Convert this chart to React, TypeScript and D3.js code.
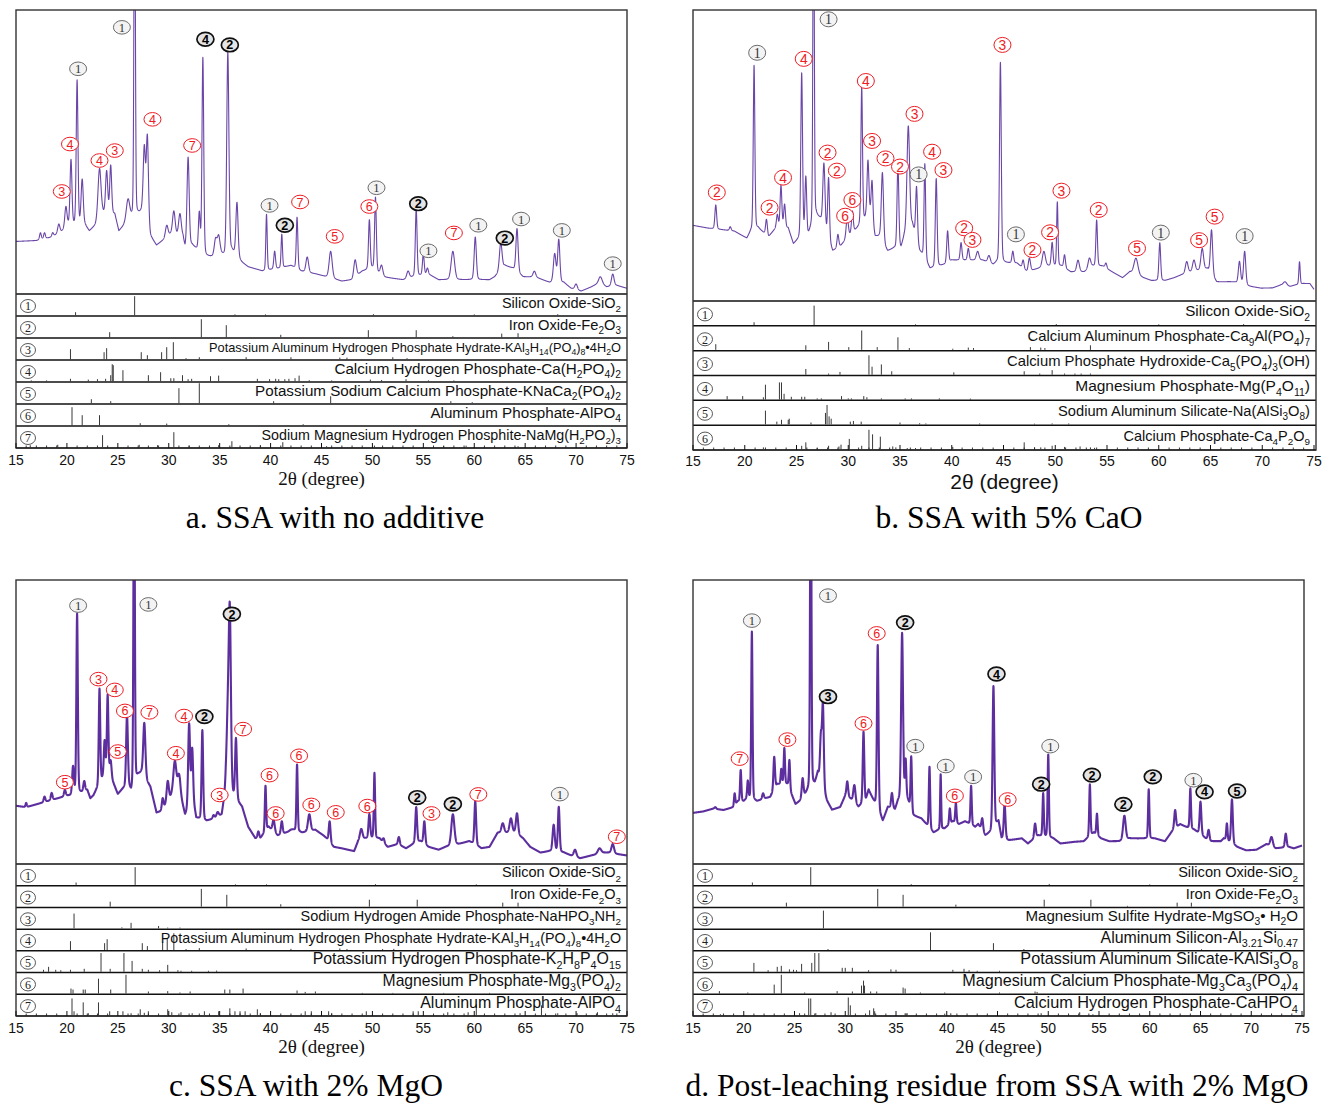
import React from "react";
import * as d3 from "d3";

type Pt = [number, number];
type Pk = [number, number, number];
type Lb = [number, number, string, string];

const xTicks = [15, 20, 25, 30, 35, 40, 45, 50, 55, 60, 65, 70, 75];
const axisTitle = "2θ (degree)";

// ---------- Panel a ----------
const aCaption = "a. SSA with no additive";
const aBaseline: Pt[] = [[15,18.5],[17,18.8],[18.5,20],[19.5,22],[20.1,24],[21.8,24],[22.2,22],[22.8,24],[23.5,28],[24.7,28],[25.1,22],[25.6,24],[26.3,26],[27.1,28],[27.4,29],[28.2,20],[28.8,17],[29.5,19],[30.2,21],[31.4,20],[31.6,16],[32.3,17],[32.6,16],[33.7,13],[34.3,13],[35.1,14],[35.5,13],[36.2,15],[37.2,11],[37.8,9.5],[38.8,8.5],[39.2,8],[40.8,9],[42,10],[43,8],[44.5,7],[45.5,6],[47,4.5],[48,5],[49,8],[50,9],[51,6],[53,5],[54,6],[55.5,7],[56.5,5],[57.5,5],[58.5,5],[60.5,5],[61.5,5],[62,6],[63,10],[63.8,9],[64.8,6],[66,6],[67.4,4],[68.8,4],[69.5,2],[70.5,1],[71.5,2.5],[72.3,4],[73,2.5],[74,3],[75,2]];
const aPeaks: Pk[] = [[17.4,21.5,.2],[17.8,21.5,.2],[18.6,21.5,.2],[19.2,24.5,.25],[19.9,30.5,.25],[20.4,47,.22],[21.0,75,.2],[21.5,40,.25],[23.2,44,.35],[23.9,43,.25],[24.3,45,.22],[26.0,33,.4],[26.65,160,.16],[27.6,51,.25],[27.9,55,.25],[29.8,24,.3],[30.5,29,.3],[31.1,28,.3],[31.9,48,.25],[33.0,28,.2],[33.35,83,.2],[34.6,19,.3],[34.9,20,.3],[35.8,85,.25],[36.7,32,.25],[39.6,28,.16],[40.4,15,.2],[41.1,21,.16],[42.6,27,.18],[43.6,13,.3],[45.9,15,.35],[48.3,12,.3],[49.7,26,.2],[50.3,34,.2],[50.9,10,.3],[53.5,8,.3],[54.3,30,.2],[55.0,14,.2],[55.4,9,.2],[57.9,15,.4],[60.1,20,.25],[62.6,18,.3],[64.2,23,.25],[65.9,8,.3],[67.9,14,.3],[68.3,19,.25],[70.0,3.5,.3],[72.4,6,.4],[73.6,7,.3]];
const aLabels: Lb[] = [[21.1,79.3,"1","g"],[25.4,93.9,"1","g"],[33.6,89.7,"4","k"],[36.0,87.7,"2","k"],[28.4,61.5,"4","r"],[20.3,52.8,"4","r"],[24.7,50.5,"3","r"],[23.2,47.0,"4","r"],[19.5,36.1,"3","r"],[32.3,52.3,"7","r"],[39.9,31.2,"1","g"],[41.4,24.2,"2","k"],[42.9,32.4,"7","r"],[46.3,20.3,"5","r"],[49.7,30.8,"6","r"],[50.4,37.4,"1","g"],[54.5,31.8,"2","k"],[55.5,15.2,"1","g"],[58.0,21.5,"7","r"],[60.4,24.2,"1","g"],[63.0,19.7,"2","k"],[64.6,26.4,"1","g"],[68.6,22.4,"1","g"],[73.6,10.7,"1","g"]];
const aPhases = ["Silicon Oxide-SiO_{2}","Iron Oxide-Fe_{2}O_{3}","Potassium Aluminum Hydrogen Phosphate Hydrate-KAl_{3}H_{14}(PO_{4})_{8}•4H_{2}O","Calcium Hydrogen Phosphate-Ca(H_{2}PO_{4})_{2}","Potassium Sodium Calcium Phosphate-KNaCa_{2}(PO_{4})_{2}","Aluminum Phosphate-AlPO_{4}","Sodium Magnesium Hydrogen Phosphite-NaMg(H_{2}PO_{2})_{3}"];
const aSticks: Pt[][] = [
  [[20.85,0.15],[26.65,0.95],[36.5,0.04],[39.5,0.04],[50.1,0.05],[60.0,0.04],[68.2,0.05]],
  [[24.2,0.25],[33.2,0.9],[35.65,0.6],[41.0,0.12],[49.6,0.35],[54.3,0.35],[57.9,0.05],[62.7,0.18],[64.3,0.2]],
  [[20.35,0.5],[23.65,0.35],[23.9,0.55],[27.3,0.35],[27.9,0.2],[29.3,0.35],[29.8,0.6],[30.45,0.85],[31.7,0.05],[33.0,0.1],[37.6,0.1],[42.0,0.1],[46.8,0.08],[47.5,0.08],[52.0,0.1],[53.4,0.05]],
  [[16.5,0.04],[18.0,0.04],[20.35,0.12],[22.1,0.08],[23.0,0.1],[23.8,0.12],[24.3,0.3],[24.45,0.85],[24.55,0.8],[25.5,0.55],[28.0,0.3],[29.2,0.45],[30.2,0.15],[30.5,0.15],[31.35,0.3],[31.9,0.1],[32.25,0.12],[34.1,0.25],[34.9,0.28],[38.7,0.12],[39.9,0.1],[40.5,0.12],[40.8,0.1],[41.4,0.1],[41.8,0.12],[42.4,0.15],[42.8,0.28],[43.8,0.05],[46.0,0.04],[49.8,0.08],[50.9,0.06],[53.3,0.1],[55.5,0.04],[58.0,0.04]],
  [[22.4,0.2],[24.3,0.1],[31.0,0.75],[33.0,1.0],[40.3,0.1],[45.9,0.35],[57.7,0.1],[59.8,0.05]],
  [[20.5,0.9],[21.5,0.5],[23.2,0.5],[27.2,0.1],[29.8,0.08],[35.9,0.05],[43.2,0.05]],
  [[16.4,0.1],[19.1,0.12],[23.5,0.6],[27.1,0.12],[28.9,0.1],[30.5,0.75],[32.0,0.08],[34.9,0.1],[36.2,0.3],[39.0,0.1],[41.2,0.25],[45.5,0.05],[50.2,0.08],[57.0,0.05],[59.2,0.08],[64.3,0.05]],
];

// ---------- Panel b ----------
const bCaption = "b. SSA with 5% CaO";
const bBaseline: Pt[] = [[15,26],[16.5,25],[17.8,24.5],[19,24],[20.2,21.5],[20.6,24],[21.3,25],[22.3,22],[23.0,25],[24.2,25],[24.7,19.5],[25.2,21],[26.1,22],[26.9,29],[27.3,28],[28.5,17],[29.3,19],[30.0,22],[30.9,25],[31.6,28],[32.0,32],[32.6,22],[33.0,22],[33.8,17],[34.4,18],[35.1,18],[35.4,22],[36.2,26],[36.9,17],[37.1,16],[37.9,11],[38.9,12],[39.3,12.5],[40.0,14],[41.2,14],[41.9,14],[42.3,14],[43.0,14],[44.0,12.4],[44.3,13],[45.2,13],[46.3,13],[47.3,10],[48.2,11],[49.2,12],[50.6,12],[51.5,10],[52.8,10],[53.6,12],[54.6,12],[55.5,10],[56.5,8],[57.2,10],[58.5,8],[59.3,7],[60.6,7],[61.5,8],[62.2,9],[63.1,10],[64.7,11],[65.6,6.5],[66.8,6.6],[67.3,6.5],[68.8,5],[69.9,4.4],[71,4.5],[71.8,5.5],[72.7,5],[73.2,5.5],[74,6],[74.6,6],[75,4]];
const bPeaks: Pk[] = [[17.2,33,.2],[18.6,25.5,.2],[20.9,81,.18],[22.1,28,.2],[23.15,29.5,.2],[23.5,39.5,.2],[23.85,33,.2],[25.5,78,.2],[25.9,42,.2],[26.65,160,.15],[27.65,47,.25],[28.1,42,.2],[29.0,22.7,.2],[29.9,28.4,.25],[30.4,30.7,.2],[31.3,73.5,.18],[31.9,48,.2],[32.3,41,.2],[33.3,44,.25],[34.8,47,.2],[35.8,60,.3],[36.6,39,.2],[37.4,47,.18],[38.5,42,.2],[39.6,24,.2],[40.9,20,.2],[41.6,18,.2],[42.5,17,.3],[43.6,15.5,.3],[44.7,82,.2],[45.9,17,.2],[46.9,14,.2],[47.5,14.7,.25],[48.9,17,.35],[49.7,20,.2],[50.2,34,.15],[50.9,15.8,.2],[52.2,14,.3],[53.3,14.7,.3],[54.0,27.8,.18],[54.9,13,.2],[57.8,14.7,.45],[60.1,20,.2],[62.7,13.5,.3],[63.4,14,.3],[64.2,18,.3],[65.1,24.4,.25],[67.8,13.5,.25],[68.3,17,.25],[72.2,6.6,.4],[73.6,13.5,.15]];
const bLabels: Lb[] = [[17.3,37.3,"2","r"],[21.2,85.3,"1","g"],[25.7,83.2,"4","r"],[28.1,96.8,"1","g"],[31.7,75.6,"4","r"],[23.7,42.4,"4","r"],[22.4,32.1,"2","r"],[28.0,51.0,"2","r"],[28.9,44.8,"2","r"],[30.4,34.7,"6","r"],[29.7,29.3,"6","r"],[32.3,55.0,"3","r"],[33.6,49.0,"2","r"],[35.0,46.2,"2","r"],[36.8,43.5,"1","g"],[36.4,64.3,"3","r"],[38.1,51.3,"4","r"],[39.2,45.0,"3","r"],[41.2,25.0,"2","r"],[42.0,21.0,"3","r"],[44.9,88.0,"3","r"],[46.2,22.9,"1","g"],[47.8,17.5,"2","r"],[49.5,23.6,"2","r"],[50.6,37.9,"3","r"],[54.2,31.3,"2","r"],[57.9,18.1,"5","r"],[60.2,23.5,"1","g"],[63.9,20.9,"5","r"],[65.4,29.0,"5","r"],[68.3,22.3,"1","g"]];
const bPhases = ["Silicon Oxide-SiO_{2}","Calcium Aluminum Phosphate-Ca_{9}Al(PO_{4})_{7}","Calcium Phosphate Hydroxide-Ca_{5}(PO_{4})_{3}(OH)","Magnesium Phosphate-Mg(P_{4}O_{11})","Sodium Aluminum Silicate-Na(AlSi_{3}O_{8})","Calcium Phosphate-Ca_{4}P_{2}O_{9}"];
const bSticks: Pt[][] = [
  [[20.9,0.12],[26.7,0.85],[36.5,0.03],[50.1,0.04],[60.0,0.03],[68.2,0.04]],
  [[17.2,0.25],[25.9,0.2],[28.1,0.35],[30.05,0.12],[31.3,0.85],[32.8,0.12],[34.8,0.55],[35.9,0.08],[40.1,0.05],[41.6,0.1],[42.1,0.08],[47.6,0.12],[48.6,0.1],[49.0,0.08],[53.4,0.2]],
  [[25.9,0.25],[28.1,0.05],[29.2,0.12],[32.0,0.85],[32.3,0.35],[33.2,0.45],[34.2,0.15],[40.2,0.1],[47.0,0.15],[48.5,0.05],[49.7,0.2],[50.9,0.05],[51.9,0.05],[52.5,0.05],[53.4,0.05]],
  [[18.3,0.15],[19.8,0.15],[21.8,0.1],[22.0,0.65],[23.35,0.75],[23.55,0.75],[23.8,0.25],[24.5,0.12],[25.5,0.12],[25.8,0.12],[27.0,0.05],[27.4,0.05],[29.35,0.15],[30.0,0.05],[30.3,0.05],[31.5,0.15],[31.8,0.1],[33.2,0.05],[35.5,0.05],[36.1,0.05],[38.8,0.05],[41.8,0.04]],
  [[22.0,0.6],[23.1,0.12],[23.55,0.2],[24.2,0.2],[24.3,0.25],[26.4,0.08],[27.8,0.5],[27.95,0.85],[28.15,0.35],[28.35,0.25],[30.2,0.12],[30.5,0.15],[31.25,0.12],[35.0,0.08],[36.9,0.05],[37.5,0.04],[42.7,0.04],[48.0,0.03],[49.7,0.04],[51.3,0.04]],
  [[21.8,0.08],[25.5,0.15],[25.9,0.3],[27.0,0.05],[28.1,0.15],[29.1,0.12],[29.3,0.2],[30.1,0.45],[31.3,0.15],[32.0,0.85],[32.35,0.65],[33.1,0.55],[34.3,0.12],[34.6,0.08],[35.7,0.05],[36.5,0.05],[40.1,0.1],[47.0,0.3],[48.0,0.08],[48.6,0.08],[49.7,0.15],[50.9,0.1],[52.4,0.12],[53.4,0.08],[53.8,0.06]],
];

// ---------- Panel c ----------
const cCaption = "c. SSA with 2% MgO";
const cBaseline: Pt[] = [[15,20.5],[16,20],[17,21],[18,22],[19,23],[20,24],[20.3,24],[21.4,25],[22.0,26],[22.3,23],[22.6,24],[23.5,30],[24.0,33],[24.6,28],[25.0,24.5],[25.4,26],[26.0,28],[26.3,25],[27.0,31],[27.3,32],[28.2,27],[28.8,18],[29.3,18.5],[30.3,24],[31.1,25],[31.6,17],[32.4,22],[32.7,16],[33.7,15],[34.5,16],[35.2,17],[35.6,26],[37.2,20],[37.8,13],[38.5,9],[39.0,9],[39.8,13],[40.7,10],[41.5,11],[42.2,12],[43.1,11],[44.4,12],[45.2,10],[45.5,9],[46.2,6],[47.0,5.5],[48.2,4.5],[48.6,8],[49.3,9],[50.7,9],[51.5,6],[52.5,7],[53.3,5.5],[54.0,7],[54.7,8],[55.5,6],[56.5,5],[57.2,6],[58.5,7],[59.5,8],[60.7,5.5],[61.5,6],[62.3,11],[64.0,11],[64.8,9],[65.5,6],[66.5,4],[67.4,4.5],[68.8,4],[69.5,3],[70.4,2],[71.5,3],[72.8,4],[73.2,4],[74,3.5],[75,3]];
const cPeaks: Pk[] = [[16.0,21.5,.15],[17.8,23.7,.2],[18.5,25,.2],[19.8,26,.2],[20.6,34,.2],[21.0,88,.17],[21.7,29,.2],[23.2,61.6,.17],[23.7,43,.18],[24.0,59.3,.17],[24.3,36,.2],[25.9,52,.2],[26.6,160,.15],[27.6,49.5,.25],[29.4,23,.2],[29.9,29,.25],[30.6,36,.35],[31.0,31,.3],[32.0,49,.22],[32.3,40,.2],[33.3,47,.18],[34.4,17,.2],[34.8,18,.25],[35.8,50,.3],[36.0,84,.25],[36.6,43.7,.2],[38.8,11.4,.2],[39.5,27.5,.15],[40.3,15.5,.25],[41.1,15,.2],[42.0,12,.3],[42.6,35,.15],[43.8,17.5,.3],[45.8,15,.2],[48.9,12.3,.3],[49.7,17.5,.2],[50.2,32,.15],[51.1,9,.2],[52.6,9.5,.2],[54.3,20,.2],[55.1,15,.2],[57.9,17.5,.35],[60.1,22,.2],[62.8,14.3,.3],[63.6,16,.3],[64.2,17.8,.25],[67.8,13.7,.25],[68.3,20,.2],[69.9,5,.3],[72.3,5.5,.4],[73.6,7,.3]];
const cLabels: Lb[] = [[21.1,91,"1","g"],[28.0,91.4,"1","g"],[36.2,88,"2","k"],[23.1,65.1,"3","r"],[24.7,61.3,"4","r"],[25.7,53.9,"6","r"],[28.1,53.4,"7","r"],[25.0,39.6,"5","r"],[19.8,28.8,"5","r"],[31.5,52.1,"4","r"],[33.5,51.9,"2","k"],[30.7,39,"4","r"],[37.3,47.5,"7","r"],[35.0,24.3,"3","r"],[39.9,31.3,"6","r"],[40.5,17.8,"6","r"],[42.8,38.1,"6","r"],[44.0,20.8,"6","r"],[46.4,18.2,"6","r"],[49.5,20.4,"6","r"],[54.4,23.4,"2","k"],[55.8,17.8,"3","r"],[57.9,21.1,"2","k"],[60.4,24.5,"7","r"],[68.4,24.6,"1","g"],[74.0,9.6,"7","r"]];
const cPhases = ["Silicon Oxide-SiO_{2}","Iron Oxide-Fe_{2}O_{3}","Sodium Hydrogen Amide Phosphate-NaHPO_{3}NH_{2}","Potassium Aluminum Hydrogen Phosphate Hydrate-KAl_{3}H_{14}(PO_{4})_{8}•4H_{2}O","Potassium Hydrogen Phosphate-K_{2}H_{8}P_{4}O_{15}","Magnesium Phosphate-Mg_{3}(PO_{4})_{2}","Aluminum Phosphate-AlPO_{4}"];
const cSticks: Pt[][] = [
  [[20.9,0.12],[26.7,0.9],[36.55,0.03],[39.6,0.03],[50.3,0.04],[60.2,0.03],[68.4,0.03]],
  [[24.25,0.25],[33.2,0.9],[35.7,0.6],[41.0,0.12],[49.7,0.35],[54.4,0.35],[62.8,0.2],[64.3,0.2]],
  [[20.7,0.75],[25.4,0.05],[26.3,0.28],[29.0,0.12],[29.9,0.04],[31.1,0.04]],
  [[20.35,0.45],[23.7,0.35],[23.95,0.55],[27.4,0.35],[27.9,0.2],[29.4,0.4],[29.85,0.6],[30.5,0.85],[31.7,0.05],[33.0,0.1],[37.6,0.08],[42.0,0.06],[46.8,0.08],[47.5,0.05],[51.0,0.05],[52.1,0.06]],
  [[17.7,0.1],[18.2,0.25],[18.9,0.1],[19.4,0.08],[20.35,0.1],[21.7,0.15],[23.35,0.95],[24.25,0.15],[25.6,0.95],[26.4,0.55],[27.4,0.15],[28.0,0.1],[29.1,0.08],[29.9,0.35],[30.9,0.08],[31.2,0.05],[32.25,0.05],[33.9,0.05],[34.7,0.06]],
  [[20.4,0.25],[20.6,0.2],[21.6,0.2],[21.8,0.2],[23.1,0.75],[24.3,0.2],[25.8,0.95],[28.0,0.1],[29.9,0.12],[31.1,0.05],[32.1,0.1],[35.5,0.2],[36.0,0.2],[37.3,0.25],[42.6,0.15],[43.4,0.08],[44.4,0.1],[49.0,0.03],[52.0,0.03],[57.0,0.03],[61.5,0.03]],
  [[20.5,0.85],[20.7,0.2],[21.6,0.65],[22.1,0.1],[23.1,0.65],[24.2,0.2],[25.5,0.2],[26.3,0.1],[27.2,0.3],[27.6,0.12],[28.0,0.2],[29.9,0.3],[30.3,0.15],[31.2,0.15],[32.3,0.1],[33.5,0.2],[34.9,0.2],[36.0,0.35],[36.5,0.2],[37.0,0.2],[37.5,0.2],[38.7,0.3],[39.0,0.1],[43.4,0.2],[44.0,0.2],[45.7,0.2],[46.0,0.1],[49.4,0.2],[54.0,0.2],[54.5,0.2],[57.4,0.15],[59.4,0.15],[60.2,0.55],[64.5,0.1],[66.6,0.5],[68.2,0.1],[70.1,0.1],[72.1,0.15],[73.6,0.1]],
];

// ---------- Panel d ----------
const dCaption = "d. Post-leaching residue from SSA with 2% MgO";
const dBaseline: Pt[] = [[15,18],[16,18.5],[17,19.5],[18,19],[19,20],[19.4,22],[20.0,22],[20.3,23],[21.3,22],[22.0,23],[22.6,23.5],[23.3,28],[24.3,28],[25.1,21],[25.5,22],[26.2,25],[27.0,28],[27.3,32],[28.2,22],[28.7,19],[29.5,20],[30.0,24],[30.5,23],[31.3,20],[32.0,22],[32.3,26],[33.7,15],[34.2,20],[34.9,19],[35.2,22],[36.0,24],[36.7,17],[37.5,16],[38.7,11],[39.2,12],[39.8,12.5],[40.6,15],[41.2,14],[41.8,15],[42.8,13],[43.1,14],[43.8,10],[44.3,11],[45.1,15],[45.4,9],[46.1,8.3],[47.4,9],[48.0,7.2],[49.0,10],[50.5,9],[51.2,7.2],[52.6,7.8],[53.5,8],[54.5,11],[55.2,9],[56.0,8],[57.0,8],[58.0,9],[59.2,9],[60.5,9],[61.5,8],[62.3,12],[63.0,14],[63.6,13],[64.4,12],[65.5,9],[66.0,8],[67.0,8],[67.3,9],[68.6,6],[69.5,4.8],[70.5,5],[71.5,7],[72.4,5.5],[73.7,6],[74.2,5.5],[75,6.5]];
const dPeaks: Pk[] = [[17.2,20,.2],[19.1,24.8,.15],[19.7,33,.15],[20.4,29,.15],[20.8,81.8,.15],[21.9,24.8,.2],[23.0,37.7,.18],[23.7,33.3,.15],[24.0,40.7,.15],[24.5,36.5,.15],[25.8,30,.2],[26.6,160,.15],[27.6,44,.2],[27.8,55.3,.2],[30.2,29,.2],[30.9,27.7,.25],[31.8,46.5,.18],[33.2,77,.18],[34.6,24.8,.2],[35.6,81.2,.22],[35.95,36,.15],[36.5,37.7,.15],[38.3,34.2,.15],[39.4,31.5,.12],[40.3,19.5,.15],[40.9,21.5,.15],[42.4,27.5,.15],[43.5,16,.2],[44.6,62.6,.2],[45.7,21,.2],[48.7,14.2,.2],[49.5,24.8,.15],[50.0,38.5,.15],[54.1,28,.15],[54.8,17.7,.15],[57.5,17,.3],[59.9,26.3,.15],[62.5,19,.2],[63.0,14,.2],[64.0,26.6,.15],[65.0,21.9,.2],[65.8,12,.2],[67.6,14.2,.15],[68.1,22.7,.2],[72.0,9.5,.3],[73.4,10.7,.2]];
const dLabels: Lb[] = [[20.8,85.7,"1","g"],[28.3,94.5,"1","g"],[19.6,37.1,"7","r"],[24.3,43.8,"6","r"],[28.3,58.9,"3","k"],[31.8,49.5,"6","r"],[33.1,81.2,"6","r"],[35.9,85,"2","k"],[36.9,41.5,"1","g"],[39.9,34.5,"1","g"],[40.8,24,"6","r"],[42.6,30.7,"1","g"],[44.9,66.9,"4","k"],[46.0,22.7,"6","r"],[49.3,28.1,"2","k"],[50.2,41.5,"1","g"],[54.3,31.3,"2","k"],[57.4,21,"2","k"],[60.3,30.7,"2","k"],[64.3,29.5,"1","g"],[65.4,25.4,"4","k"],[68.6,25.7,"5","k"]];
const dPhases = ["Silicon Oxide-SiO_{2}","Iron Oxide-Fe_{2}O_{3}","Magnesium Sulfite Hydrate-MgSO_{3}• H_{2}O","Aluminum Silicon-Al_{3.21}Si_{0.47}","Potassium Aluminum Silicate-KAlSi_{3}O_{8}","Magnesium Calcium Phosphate-Mg_{3}Ca_{3}(PO_{4})_{4}","Calcium Hydrogen Phosphate-CaHPO_{4}"];
const dSticks: Pt[][] = [
  [[20.85,0.12],[26.6,0.9],[36.5,0.04],[50.1,0.05],[60.0,0.03]],
  [[24.2,0.2],[33.2,0.9],[35.7,0.6],[40.9,0.1],[49.6,0.35],[54.2,0.35],[57.8,0.04],[62.7,0.2],[64.1,0.2]],
  [[27.85,0.9]],
  [[28.3,0.05],[38.4,0.9],[44.6,0.35],[47.6,0.05],[65.1,0.04]],
  [[21.0,0.45],[22.4,0.08],[23.3,0.25],[23.7,0.3],[24.5,0.12],[24.9,0.1],[25.2,0.08],[25.7,0.4],[26.7,0.45],[27.0,0.95],[27.4,0.95],[29.7,0.2],[30.0,0.2],[30.7,0.2],[32.3,0.08],[34.5,0.12],[35.0,0.1],[40.6,0.1],[41.7,0.15],[42.2,0.08],[43.0,0.05],[45.2,0.05]],
  [[17.6,0.12],[20.4,0.05],[23.0,0.45],[23.7,0.95],[26.0,0.05],[29.2,0.12],[30.7,0.1],[31.6,0.4],[31.8,0.65],[31.9,0.4],[32.5,0.1],[33.1,0.1],[35.7,0.3],[35.9,0.25],[37.4,0.05],[39.8,0.05],[45.2,0.05],[48.7,0.1],[48.9,0.08]],
  [[17.7,0.05],[25.5,0.1],[26.4,0.85],[26.6,0.85],[27.1,0.1],[28.6,0.15],[30.3,0.9],[30.5,0.5],[32.4,0.25],[32.8,0.35],[32.9,0.2],[35.9,0.1],[36.1,0.1],[39.8,0.08],[40.4,0.1],[49.3,0.1],[53.1,0.15],[54.4,0.05]],
];

// ---------- layout ----------
const SANS = "'Liberation Sans', Arial, Helvetica, sans-serif";
const SERIF = "'Liberation Serif', 'Times New Roman', serif";

interface Panel {
  id: string; left: number; right: number; x1: number; top: number; mainBottom: number; rowsBottom: number;
  tickY: number; titleY: number; titleSans: boolean; titleSize: number; capX: number; capY: number;
  base: Pt[]; peaks: Pk[]; labels: Lb[]; phases: string[]; sticks: Pt[][]; caption: string;
  lineW: number; lineColor: string; nameSizes: number[]; brx: number; bry: number;
}

const panels: Panel[] = [
  { id: "a", left: 16, right: 627, x1: 627, top: 10, mainBottom: 294, rowsBottom: 448, tickY: 465, titleY: 485, titleSans: false, titleSize: 19, capX: 335, capY: 528,
    base: aBaseline, peaks: aPeaks, labels: aLabels, phases: aPhases, sticks: aSticks, caption: aCaption,
    lineW: 1.1, lineColor: "#6a46a8", nameSizes: [14.5, 14.7, 12.8, 15.2, 15.2, 15.2, 14.3], brx: 8.5, bry: 6.8 },
  { id: "b", left: 693, right: 1316, x1: 1314, top: 10, mainBottom: 301, rowsBottom: 450, tickY: 466, titleY: 489, titleSans: true, titleSize: 21, capX: 1009, capY: 528,
    base: bBaseline, peaks: bPeaks, labels: bLabels, phases: bPhases, sticks: bSticks, caption: bCaption,
    lineW: 1.1, lineColor: "#6a46a8", nameSizes: [15.2, 14.8, 14.8, 15.5, 14.7, 14.5], brx: 8.5, bry: 7.5 },
  { id: "c", left: 16, right: 627, x1: 627, top: 580, mainBottom: 864, rowsBottom: 1016, tickY: 1033, titleY: 1053, titleSans: false, titleSize: 19, capX: 306, capY: 1096,
    base: cBaseline, peaks: cPeaks, labels: cLabels, phases: cPhases, sticks: cSticks, caption: cCaption,
    lineW: 2.1, lineColor: "#5d2f9e", nameSizes: [14.5, 14.5, 14.5, 14.3, 15.9, 15.7, 16], brx: 8.5, bry: 6.8 },
  { id: "d", left: 693, right: 1304, x1: 1302, top: 580, mainBottom: 864, rowsBottom: 1016, tickY: 1033, titleY: 1053, titleSans: false, titleSize: 19, capX: 997, capY: 1096,
    base: dBaseline, peaks: dPeaks, labels: dLabels, phases: dPhases, sticks: dSticks, caption: dCaption,
    lineW: 2.1, lineColor: "#5d2f9e", nameSizes: [14.6, 14.7, 15.1, 15.9, 16.2, 16.2, 16.3], brx: 8.5, bry: 6.8 },
];

function spectrum(base: Pt[], peaks: Pk[]): Pt[] {
  const bl = d3.scaleLinear().domain(base.map((d) => d[0])).range(base.map((d) => d[1])).clamp(true);
  const pts: Pt[] = [];
  const xs = d3.range(15, 75.0001, 0.01);
  for (const x of xs) {
    let y = bl(x);
    for (const [p, h, w] of peaks) {
      const dx = (x - p) / (w / 2);
      if (Math.abs(dx) > 60) continue;
      const amp = h - bl(p);
      y += amp * (0.8 * Math.exp(-Math.LN2 * dx * dx) + 0.2 / (1 + dx * dx));
    }
    pts.push([x, y]);
  }
  return pts;
}

function Formula({ text, x, y, size }: { text: string; x: number; y: number; size: number }) {
  const parts = text.split(/(_\{[^}]*\})/).filter((s) => s.length > 0);
  let sub = false;
  const spans = parts.map((p, i) => {
    if (p.startsWith("_{")) {
      const dy = sub ? 0 : size * 0.3;
      sub = true;
      return <tspan key={i} dy={dy} fontSize={size * 0.68}>{p.slice(2, -1)}</tspan>;
    }
    const dy = sub ? -size * 0.3 : 0;
    sub = false;
    return <tspan key={i} dy={dy}>{p}</tspan>;
  });
  return (
    <text x={x} y={y} textAnchor="end" fontSize={size} fontFamily={SANS} fill="#111">{spans}</text>
  );
}

function Badge({ x, y, n, kind, rx, ry }: { x: number; y: number; n: string; kind: string; rx: number; ry: number }) {
  const st =
    kind === "r" ? { stroke: "#ee1c24", fill: "#ffffff", color: "#ee1c24", sw: 1, fw: 400, ff: SANS } :
    kind === "k" ? { stroke: "#111111", fill: "#e4e4e4", color: "#000000", sw: 1.7, fw: 700, ff: SANS } :
    kind === "o" ? { stroke: "#444444", fill: "none", color: "#222222", sw: 0.9, fw: 400, ff: SERIF } :
    { stroke: "#6b6b6b", fill: "#f3f3f3", color: "#333333", sw: 1, fw: 400, ff: SERIF };
  const fs = ry * 1.85;
  return (
    <g>
      <ellipse cx={x} cy={y} rx={rx} ry={ry} fill={st.fill} stroke={st.stroke} strokeWidth={st.sw} />
      <text x={x} y={y + fs * 0.36} textAnchor="middle" fontSize={fs} fontFamily={st.ff} fontWeight={st.fw} fill={st.color}>{n}</text>
    </g>
  );
}

function PanelView({ p }: { p: Panel }) {
  const x = d3.scaleLinear().domain([15, 75]).range([p.left, p.x1]);
  const y = d3.scaleLinear().domain([0, 100]).range([p.mainBottom, p.top]);
  const data = spectrum(p.base, p.peaks);
  const line = d3.line<Pt>().x((d) => x(d[0])).y((d) => y(d[1]));
  const nRows = p.phases.length;
  const rh = (p.rowsBottom - p.mainBottom) / nRows;
  const clipId = `clip-${p.id}`;
  const cx = (p.left + p.right) / 2;
  const minor = d3.range(15, 76, 1).filter((t) => t % 5 !== 0);
  return (
    <g>
      <defs>
        <clipPath id={clipId}>
          <rect x={p.left} y={p.top} width={p.right - p.left} height={p.mainBottom - p.top} />
        </clipPath>
      </defs>
      <rect x={p.left} y={p.top} width={p.right - p.left} height={p.mainBottom - p.top} fill="#fff" />
      <path d={line(data) || ""} fill="none" stroke={p.lineColor} strokeWidth={p.lineW} strokeLinejoin="round" clipPath={`url(#${clipId})`} />
      {p.labels.map((l, i) => (
        <Badge key={i} x={x(l[0])} y={y(l[1])} n={l[2]} kind={l[3]} rx={p.brx} ry={p.bry} />
      ))}
      {p.phases.map((name, i) => {
        const rt = p.mainBottom + i * rh;
        const rb = rt + rh;
        return (
          <g key={i}>
            {p.sticks[i].map((s, j) => (
              <line key={j} x1={x(s[0])} x2={x(s[0])} y1={rb - 0.8} y2={rb - 0.8 - s[1] * (rh - 2)} stroke="#222" strokeWidth={0.9} />
            ))}
            <Formula text={name} x={p.right - 6} y={rt + rh * 0.62} size={p.nameSizes[i]} />
            <Badge x={p.left + 12} y={rt + rh / 2 + 1} n={String(i + 1)} kind="o" rx={7.5} ry={6.5} />
            <line x1={p.left} x2={p.right} y1={rb} y2={rb} stroke="#111" strokeWidth={1.5} />
          </g>
        );
      })}
      <line x1={p.left} x2={p.right} y1={p.mainBottom} y2={p.mainBottom} stroke="#111" strokeWidth={1.6} />
      <rect x={p.left} y={p.top} width={p.right - p.left} height={p.rowsBottom - p.top} fill="none" stroke="#333" strokeWidth={1.4} />
      {minor.map((t) => (
        <line key={`m${t}`} x1={x(t)} x2={x(t)} y1={p.rowsBottom} y2={p.rowsBottom - 2.5} stroke="#222" strokeWidth={0.9} />
      ))}
      {xTicks.map((t) => (
        <g key={t}>
          <line x1={x(t)} x2={x(t)} y1={p.rowsBottom} y2={p.rowsBottom - 5} stroke="#111" strokeWidth={1} />
          <text x={x(t)} y={p.tickY} textAnchor="middle" fontSize={14} fontFamily={SANS} fill="#111">{t}</text>
        </g>
      ))}
      <text x={cx} y={p.titleY} textAnchor="middle" fontSize={p.titleSize} fontFamily={p.titleSans ? SANS : SERIF} fill="#111">{axisTitle}</text>
      <text x={p.capX} y={p.capY} textAnchor="middle" fontSize={31.5} fontFamily={SERIF} fill="#000">{p.caption}</text>
    </g>
  );
}

export default function App() {
  return (
    <svg width={1338} height={1104} viewBox="0 0 1338 1104" style={{ position: "absolute", left: 0, top: 0, background: "#fff" }}>
      <rect x={0} y={0} width={1338} height={1104} fill="#fff" />
      {panels.map((p) => <PanelView key={p.id} p={p} />)}
    </svg>
  );
}
